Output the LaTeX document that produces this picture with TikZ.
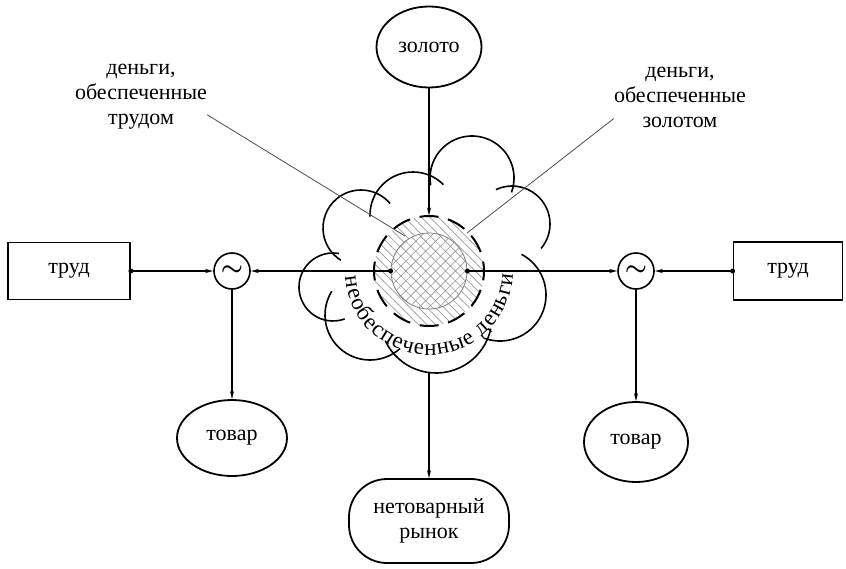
\documentclass[tikz,border=0pt]{standalone}
\usepackage{fontspec}
\setmainfont{Liberation Serif}
\usetikzlibrary{arrows.meta,shapes.geometric,patterns.meta,decorations.text,positioning}

\begin{document}
\begin{tikzpicture}[x=1pt,y=1pt,
  font=\fontsize{22}{25}\selectfont,
  >={Stealth[length=8pt,width=4pt]},
  box/.style={draw,line width=1.8pt,minimum width=122pt,minimum height=57pt},
  oval/.style={ellipse,draw,line width=1.8pt,inner sep=0pt},
  tilde/.style={circle,draw,line width=1.6pt,minimum size=36pt,inner sep=0pt,font=\fontsize{30}{30}\selectfont\boldmath},
  conn/.style={line width=1.3pt},
  lead/.style={line width=0.8pt,black!70}]
\useasboundingbox (0,0) rectangle (846,-568);

% hatched core
\node[circle,minimum size=110pt,pattern={Lines[angle=-45,distance=6pt,line width=0.7pt]},pattern color=black!40] (ring) at (429,-271) {};
\node[circle,minimum size=76pt,preaction={fill=white},pattern={Hatch[angle=45,distance=7pt,line width=0.6pt]},pattern color=black!40,draw=black!50,line width=0.8pt] (core) at (429,-271) {};
\draw[line width=2pt,dash pattern=on 19pt off 9.8pt,dash phase=9.5pt] (ring.center) circle (55);

% cloud
\foreach \cx/\cy/\r/\a/\b in {472/178/42/-20/190, 512/224/38/-40/115, 500/295/46/-110/62,
    436/317/56/205/348, 370/315/45/148/312, 333/287/34/80/290, 361/228/38/40/238, 413/215/43/45/182}
  \draw[line width=1.6pt] (\cx,-\cy) ++(\a:\r) arc[start angle=\a,end angle=\b,radius=\r];
\coordinate (cloudbot) at (429,-373);
\path[decorate,decoration={text along path,text align={fit to path},
    text={|\fontsize{23}{23}\selectfont|необеспеченные деньги}}]
  ([shift={(184:84)}]ring.center) arc[start angle=184,end angle=358,radius=84];

% nodes
\node[box] (trudL) at (69,-271) {труд};
\node[box,minimum width=109pt,minimum height=58pt] (trudR) at (788,-271) {труд};
\node[tilde] (tildeL) at (232,-271) {$\sim$};
\node[tilde] (tildeR) at (636,-271) {$\sim$};
\node[oval,minimum width=105pt,minimum height=81pt] (zoloto) at (429,-47) {золото};
\node[oval,minimum width=110pt,minimum height=76pt] (tovarL) at (232,-438) {товар};
\node[oval,minimum width=104pt,minimum height=80pt] (tovarR) at (636,-442) {товар};
\node[draw,line width=1.8pt,rounded corners=38pt,minimum width=160pt,minimum height=84pt,
  align=center] (market) at (429,-521) {нетоварный\\рынок};
\node[align=center,inner sep=0pt] (lblL) at (141,-97) {деньги,\\обеспеченные\\трудом};
\node[align=center,inner sep=0pt] (lblR) at (680,-97) {деньги,\\обеспеченные\\золотом};

% leaders
\coordinate (tipL) at (405,-236);
\coordinate (tipR) at (467,-233);
\draw[lead] (lblL.-15) -- (tipL);
\draw[lead] (lblR.198) -- (tipR);

% connectors
\draw[conn,->] (trudL.east) -- (tildeL);
\draw[conn,->] (core.west) -- (tildeL);
\draw[conn,->] (core.east) -- (tildeR);
\draw[conn,->] (trudR.west) -- (tildeR);
\draw[conn,->] (tildeL) -- (tovarL);
\draw[conn,->] (tildeR) -- (tovarR);
\draw[conn,->] (zoloto) -- (ring.north);
\draw[conn,->] (cloudbot) -- (market);
\foreach \p in {trudL.east,trudR.west,core.west,core.east}
  \fill (\p) circle (2.5);
\end{tikzpicture}
\end{document}
